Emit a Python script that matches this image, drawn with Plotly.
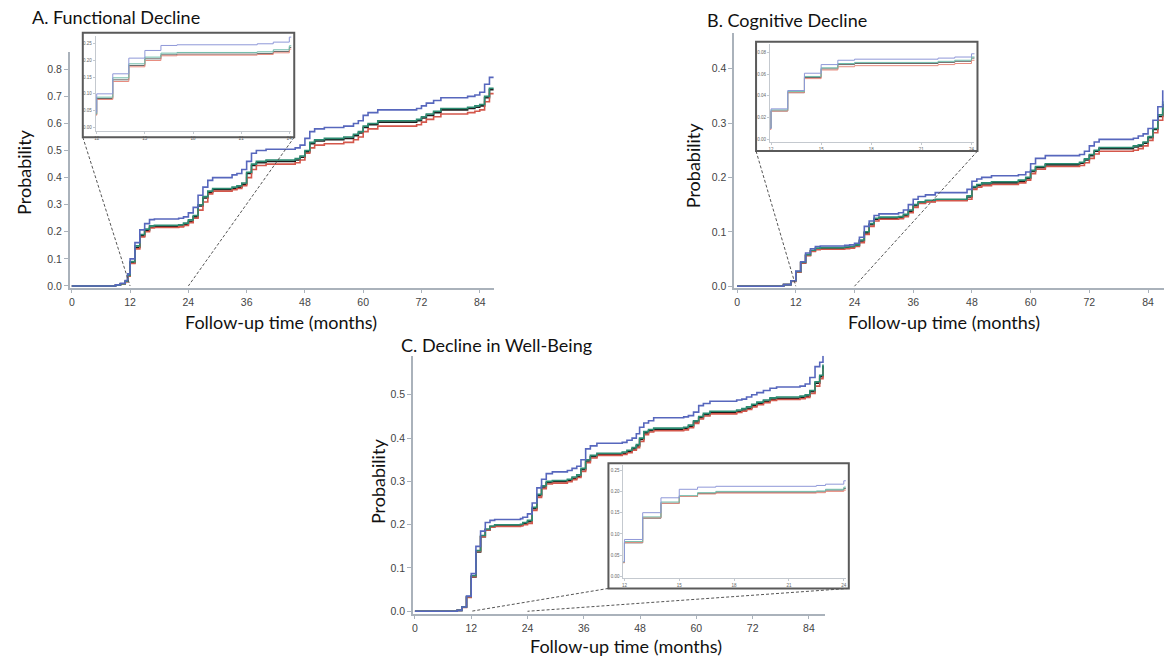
import plotly.graph_objects as go

W, H = 1165, 660

# ---------------- data ----------------
# Panel A: Functional Decline
tA = [0, 9, 10, 11, 11.5, 12, 13, 14, 15, 16, 17, 22, 23, 24, 25, 26, 27, 28, 29, 33, 34, 35, 36, 37, 38,
      40, 46, 47, 48, 49, 50, 52, 56, 58, 59, 60, 61, 63, 71, 72, 73, 74.5, 76, 81.5, 83, 84, 85, 86, 86.9]
blueA = [0, 0.004, 0.01, 0.02, 0.045, 0.10, 0.16, 0.207, 0.23, 0.245, 0.247, 0.25, 0.255, 0.27, 0.29,
         0.335, 0.365, 0.39, 0.40, 0.41, 0.415, 0.43, 0.46, 0.49, 0.50, 0.505, 0.51, 0.52, 0.545, 0.57,
         0.58, 0.585, 0.59, 0.60, 0.61, 0.63, 0.64, 0.65, 0.655, 0.665, 0.675, 0.685, 0.695, 0.70, 0.705,
         0.715, 0.745, 0.77, 0.77]
greenA = [0, 0.003, 0.008, 0.018, 0.04, 0.09, 0.148, 0.19, 0.21, 0.222, 0.224, 0.226, 0.232, 0.244, 0.26,
          0.30, 0.33, 0.35, 0.36, 0.365, 0.37, 0.38, 0.42, 0.45, 0.46, 0.465, 0.47, 0.48, 0.50, 0.53,
          0.54, 0.545, 0.55, 0.56, 0.57, 0.59, 0.60, 0.61, 0.615, 0.625, 0.635, 0.645, 0.655, 0.66, 0.665,
          0.67, 0.70, 0.73, 0.73]
blackA = [0, 0.003, 0.008, 0.017, 0.038, 0.086, 0.142, 0.185, 0.205, 0.217, 0.219, 0.221, 0.227, 0.239, 0.255,
          0.295, 0.325, 0.345, 0.355, 0.36, 0.365, 0.375, 0.415, 0.445, 0.455, 0.46, 0.465, 0.475, 0.495, 0.525,
          0.535, 0.54, 0.545, 0.555, 0.565, 0.585, 0.595, 0.605, 0.61, 0.62, 0.63, 0.64, 0.65, 0.655, 0.66,
          0.665, 0.695, 0.725, 0.725]
redA = [0, 0.003, 0.008, 0.016, 0.036, 0.083, 0.137, 0.181, 0.20, 0.214, 0.216, 0.218, 0.223, 0.234, 0.25,
        0.28, 0.31, 0.34, 0.35, 0.355, 0.36, 0.37, 0.40, 0.43, 0.445, 0.45, 0.455, 0.465, 0.49, 0.51,
        0.52, 0.525, 0.53, 0.54, 0.55, 0.57, 0.58, 0.59, 0.595, 0.605, 0.615, 0.625, 0.635, 0.64, 0.645,
        0.65, 0.68, 0.71, 0.71]

# Panel B: Cognitive Decline
tB = [0, 9.5, 11, 12, 13, 14, 15, 16, 17, 22, 23, 24, 25, 26, 27, 28, 29, 33, 34, 35, 36, 37, 38.5, 40.5, 47,
      48, 49, 50, 52, 57.5, 59, 60, 61, 63, 70, 71, 72, 73, 74, 81, 82, 83, 84, 85, 86, 87]
blueB = [0, 0.003, 0.01, 0.028, 0.045, 0.061, 0.069, 0.073, 0.074, 0.075, 0.076, 0.079, 0.09, 0.11, 0.12,
         0.13, 0.133, 0.135, 0.14, 0.15, 0.16, 0.165, 0.168, 0.172, 0.178, 0.193, 0.197, 0.20, 0.203, 0.205,
         0.21, 0.225, 0.235, 0.24, 0.242, 0.248, 0.258, 0.265, 0.27, 0.272, 0.276, 0.28, 0.29, 0.305, 0.33, 0.36]
greenB = [0, 0.003, 0.01, 0.027, 0.044, 0.058, 0.066, 0.070, 0.071, 0.072, 0.073, 0.076, 0.085, 0.10, 0.115,
          0.125, 0.127, 0.128, 0.132, 0.14, 0.15, 0.155, 0.158, 0.16, 0.166, 0.183, 0.187, 0.19, 0.192, 0.195,
          0.20, 0.213, 0.22, 0.225, 0.228, 0.234, 0.242, 0.25, 0.255, 0.258, 0.26, 0.265, 0.275, 0.29, 0.315, 0.34]
blackB = [0, 0.003, 0.01, 0.026, 0.043, 0.057, 0.065, 0.069, 0.070, 0.071, 0.072, 0.075, 0.083, 0.098, 0.113,
          0.123, 0.125, 0.126, 0.13, 0.138, 0.148, 0.153, 0.156, 0.158, 0.164, 0.181, 0.185, 0.188, 0.19, 0.193,
          0.198, 0.211, 0.218, 0.223, 0.226, 0.232, 0.24, 0.248, 0.253, 0.256, 0.258, 0.263, 0.273, 0.288, 0.312, 0.335]
redB = [0, 0.003, 0.009, 0.026, 0.043, 0.056, 0.064, 0.067, 0.068, 0.069, 0.070, 0.073, 0.08, 0.095, 0.11,
        0.12, 0.123, 0.124, 0.128, 0.135, 0.145, 0.152, 0.155, 0.157, 0.16, 0.178, 0.182, 0.185, 0.187, 0.19,
        0.195, 0.207, 0.215, 0.22, 0.222, 0.227, 0.235, 0.243, 0.248, 0.25, 0.253, 0.258, 0.268, 0.282, 0.305, 0.32]

# Panel C: Decline in Well-Being
tC = [0, 9, 10, 11, 12, 13, 14, 15, 16, 17, 22.5, 23, 24, 25, 26, 27, 28, 29.3, 32.5, 33.5, 34.5, 35.4, 36.4,
      37.4, 38.8, 44.2, 45.2, 46.3, 47.2, 47.9, 48.8, 49.8, 50.9, 57.3, 58.3, 59.4, 60.5, 61.5, 62.9, 68.6,
      69.7, 70.7, 71.8, 72.9, 74.3, 75.7, 77.1, 82.1, 83.2, 84.2, 85.3, 86.3, 87]
blueC = [0, 0.002, 0.01, 0.035, 0.087, 0.15, 0.185, 0.205, 0.21, 0.212, 0.214, 0.217, 0.225, 0.25, 0.285,
         0.305, 0.318, 0.322, 0.325, 0.33, 0.335, 0.35, 0.375, 0.382, 0.388, 0.39, 0.395, 0.40, 0.41, 0.425,
         0.435, 0.44, 0.447, 0.449, 0.452, 0.46, 0.475, 0.48, 0.485, 0.488, 0.49, 0.495, 0.50, 0.505, 0.51,
         0.515, 0.518, 0.52, 0.525, 0.54, 0.565, 0.575, 0.59]
greenC = [0, 0.002, 0.01, 0.034, 0.082, 0.14, 0.175, 0.19, 0.197, 0.20, 0.201, 0.205, 0.21, 0.24, 0.27,
          0.29, 0.30, 0.302, 0.305, 0.31, 0.315, 0.33, 0.35, 0.36, 0.365, 0.368, 0.372, 0.378, 0.385, 0.40,
          0.415, 0.42, 0.423, 0.425, 0.43, 0.44, 0.45, 0.457, 0.462, 0.465, 0.468, 0.472, 0.478, 0.483, 0.488,
          0.493, 0.495, 0.497, 0.50, 0.51, 0.53, 0.545, 0.57]
blackC = [0, 0.002, 0.01, 0.033, 0.079, 0.137, 0.172, 0.188, 0.195, 0.198, 0.199, 0.203, 0.207, 0.237, 0.267,
          0.287, 0.297, 0.299, 0.302, 0.307, 0.312, 0.327, 0.347, 0.357, 0.362, 0.365, 0.369, 0.375, 0.382, 0.397,
          0.412, 0.417, 0.42, 0.422, 0.427, 0.437, 0.447, 0.454, 0.459, 0.462, 0.465, 0.469, 0.475, 0.48, 0.485,
          0.49, 0.492, 0.494, 0.497, 0.507, 0.527, 0.542, 0.567]
redC = [0, 0.002, 0.009, 0.032, 0.08, 0.138, 0.172, 0.188, 0.194, 0.196, 0.197, 0.20, 0.203, 0.233, 0.263,
        0.283, 0.294, 0.296, 0.299, 0.304, 0.309, 0.323, 0.343, 0.354, 0.36, 0.362, 0.366, 0.372, 0.378, 0.392,
        0.408, 0.414, 0.417, 0.419, 0.424, 0.434, 0.444, 0.451, 0.456, 0.459, 0.462, 0.466, 0.472, 0.477, 0.482,
        0.487, 0.489, 0.491, 0.494, 0.503, 0.52, 0.537, 0.56]

titles = ["A. Functional Decline", "B. Cognitive Decline", "C. Decline in Well-Being"]
x_ticks = [0, 12, 24, 36, 48, 60, 72, 84]
y_ticks = [[0.0, 0.1, 0.2, 0.3, 0.4, 0.5, 0.6, 0.7, 0.8],
           [0.0, 0.1, 0.2, 0.3, 0.4],
           [0.0, 0.1, 0.2, 0.3, 0.4, 0.5]]
inset_x_ticks = [12, 15, 18, 21, 24]
inset_y_ticks = [[0.0, 0.05, 0.10, 0.15, 0.20, 0.25],
                 [0.0, 0.02, 0.04, 0.06, 0.08],
                 [0.0, 0.05, 0.10, 0.15, 0.20, 0.25]]
x_title = "Follow-up time (months)"
y_title = "Probability"

for t, *ss in [(tA, blueA, greenA, blackA, redA), (tB, blueB, greenB, blackB, redB),
               (tC, blueC, greenC, blackC, redC)]:
    for s in ss:
        assert len(s) == len(t), (len(s), len(t))

# ---------------- styling / layout ----------------
main_cols = {"black": "#1e1e1e", "red": "#d4574b", "green": "#2b8c72", "blue": "#5767bd"}
ins_cols = {"black": "#6a6a6a", "red": "#e88b7e", "green": "#6fbcaa", "blue": "#8f98d8"}

def px2x(px):
    return px / W

def px2y(py):
    return 1 - py / H

# pixel boxes: (left, right, bottom, top) and axis ranges
main_geo = [
    dict(px=(68, 493, 290, 52), xr=[-0.41, 86.88], yr=[-0.0084, 0.865]),
    dict(px=(734, 1165, 290, 33), xr=[-0.61, 87.26], yr=[-0.0037, 0.4658]),
    dict(px=(412, 825, 618, 358), xr=[-0.425, 87.4], yr=[-0.0069, 0.590]),
]
inset_geo = [
    dict(px=(94, 290, 132, 36), xr=[11.94, 24.12], yr=[-0.012, 0.274], box=(81, 293, 138, 33)),
    dict(px=(770, 975, 143, 44), xr=[11.94, 24.18], yr=[-0.0028, 0.0883], box=(756, 978, 152, 42)),
    dict(px=(623, 846, 582, 468), xr=[11.945, 24.11], yr=[-0.0047, 0.2617], box=(608, 849, 592, 466)),
]
title_pos = [(28, 17), (705, 20), (398, 347)]
xtitle_pos = [(280, 324), (944, 324), (626, 650)]
ytitle_pos = [(22, 173), (693, 167), (377, 485)]

data_sets = [(tA, blueA, greenA, blackA, redA), (tB, blueB, greenB, blackB, redB),
             (tC, blueC, greenC, blackC, redC)]

fig = go.Figure()
layout = dict(width=W, height=H, margin=dict(l=0, r=0, t=0, b=0),
              paper_bgcolor="white", plot_bgcolor="rgba(0,0,0,0)", showlegend=False)
shapes = []
annotations = []

tick_font = dict(family="Liberation Sans, Arial, sans-serif", size=10.5, color="#444")
big_font = dict(family="Lato, Calibri, sans-serif", size=18, color="#111")

def d2p(val, rng, lo, hi):
    return lo + (val - rng[0]) / (rng[1] - rng[0]) * (hi - lo)

for i in range(3):
    t, blue, green, black, red = data_sets[i]
    series = [("black", black), ("red", red), ("green", green), ("blue", blue)]
    # main
    mx, my = f"x{i+1}", f"y{i+1}"
    for name, vals in series:
        fig.add_trace(go.Scatter(x=t, y=vals, mode="lines", line_shape="hv",
                                 line=dict(color=main_cols[name], width=1.6),
                                 xaxis=mx, yaxis=my, hoverinfo="skip"))
    g = main_geo[i]
    l, r, b, tp = g["px"]
    axn = "" if i == 0 else str(i + 1)
    layout["xaxis" + axn] = dict(domain=[px2x(l), px2x(r)], range=g["xr"], anchor=my,
                                  showgrid=False, zeroline=False, showline=True, linecolor="#aab2bb",
                                  linewidth=1.5, ticks="outside", ticklen=3, tickcolor="#aab2bb",
                                  tickvals=x_ticks, tickfont=tick_font)
    layout["yaxis" + axn] = dict(domain=[px2y(b), px2y(tp)], range=g["yr"], anchor=mx,
                                  showgrid=False, zeroline=False, showline=True, linecolor="#aab2bb",
                                  linewidth=1.5, ticks="outside", ticklen=4, tickcolor="#aab2bb",
                                  tickvals=y_ticks[i], tickformat=".1f", tickfont=tick_font)
    # inset
    j = i + 4
    ix, iy = f"x{j}", f"y{j}"
    for name, vals in series:
        fig.add_trace(go.Scatter(x=t, y=vals, mode="lines", line_shape="hv",
                                 line=dict(color=ins_cols[name], width=1.0),
                                 xaxis=ix, yaxis=iy, hoverinfo="skip", cliponaxis=True))
    gi = inset_geo[i]
    l2, r2, b2, t2 = gi["px"]
    small_font = dict(family="Liberation Sans, Arial, sans-serif", size=4.5, color="#666")
    layout[f"xaxis{j}"] = dict(domain=[px2x(l2), px2x(r2)], range=gi["xr"], anchor=iy,
                               showgrid=False, zeroline=False, showline=True, linecolor="#c4c9cf",
                               linewidth=1, ticks="outside", ticklen=2, tickcolor="#c4c9cf",
                               tickvals=inset_x_ticks, tickfont=small_font)
    layout[f"yaxis{j}"] = dict(domain=[px2y(b2), px2y(t2)], range=gi["yr"], anchor=ix,
                               showgrid=False, zeroline=False, showline=True, linecolor="#c4c9cf",
                               linewidth=1, ticks="outside", ticklen=2, tickcolor="#c4c9cf",
                               tickvals=inset_y_ticks[i], tickformat=".2f", tickfont=small_font)
    # inset frame
    bl, br, bb, bt = gi["box"]
    shapes.append(dict(type="rect", xref="paper", yref="paper",
                       x0=px2x(bl), x1=px2x(br), y0=px2y(bb), y1=px2y(bt),
                       line=dict(color="#5a5a5a", width=2), fillcolor="rgba(0,0,0,0)", layer="above"))
    # connectors to (12,0) and (24,0) of the main axes
    for corner_px, xval in [(bl, 12), (br, 24)]:
        ex = d2p(xval, g["xr"], px2x(l), px2x(r))
        ey = d2p(0.0, g["yr"], px2y(b), px2y(tp))
        shapes.append(dict(type="line", xref="paper", yref="paper",
                           x0=px2x(corner_px), y0=px2y(bb), x1=ex, y1=ey,
                           line=dict(color="#555", width=1, dash="3px,2px"), layer="above"))
    # texts
    tx, ty = title_pos[i]
    annotations.append(dict(text=titles[i], xref="paper", yref="paper", x=px2x(tx), y=px2y(ty),
                            xanchor="left", yanchor="middle", showarrow=False, font=big_font))
    xx, xy = xtitle_pos[i]
    annotations.append(dict(text=x_title, xref="paper", yref="paper", x=px2x(xx), y=px2y(xy),
                            xanchor="center", yanchor="middle", showarrow=False, font=big_font))
    yx, yy = ytitle_pos[i]
    annotations.append(dict(text=y_title, xref="paper", yref="paper", x=px2x(yx), y=px2y(yy),
                            xanchor="center", yanchor="middle", showarrow=False, font=big_font,
                            textangle=-90))

layout["shapes"] = shapes
layout["annotations"] = annotations
fig.update_layout(**layout)
fig.write_html("out.html", config={"displayModeBar": False},
               post_script="document.body.style.margin='0';document.body.style.overflow='hidden';")
